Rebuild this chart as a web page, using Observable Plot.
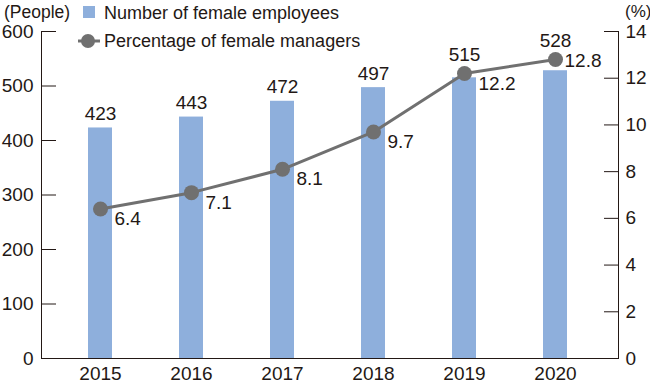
<!DOCTYPE html>
<html><head><meta charset="utf-8">
<script src="https://cdn.jsdelivr.net/npm/d3@7"></script>
<script src="https://cdn.jsdelivr.net/npm/@observablehq/plot@0.6"></script>
<style>
body{margin:0;background:#fff;}
#wrap{position:relative;width:650px;height:384px;font-family:"Liberation Sans",Arial,sans-serif;color:#231815;}
#wrap svg{display:block}
.lab{position:absolute;font-size:18px;line-height:18px;white-space:nowrap}
</style></head><body>
<div id="wrap"></div>
<script>
const years = ["2015","2016","2017","2018","2019","2020"];
const employees = [423, 443, 472, 497, 515, 528];
const managerPct = [6.4, 7.1, 8.1, 9.7, 12.2, 12.8];
const leftTicks = [0, 100, 200, 300, 400, 500, 600];
const rightTicks = [0, 2, 4, 6, 8, 10, 12, 14];
const leftMax = 600, rightMax = 14;
const seriesNames = ["Number of female employees", "Percentage of female managers"];
const unitLeft = "(People)", unitRight = "(%)";

const k = leftMax / rightMax;
const data = years.map((y, i) => ({year: y, n: employees[i], pct: managerPct[i], pctL: managerPct[i] * k}));

const barColor = "#8EAFDC", lineColor = "#707070", ink = "#231815";
const font = "'Liberation Sans', Arial, sans-serif";

const chart = Plot.plot({
  width: 650, height: 384,
  marginTop: 31, marginBottom: 26, marginLeft: 41, marginRight: 32,
  style: {fontFamily: font, fontSize: "19px", color: ink, background: "transparent", overflow: "visible"},
  x: {type: "band", domain: years, paddingInner: 0.74, paddingOuter: 0.54, align: 0.478},
  y: {domain: [0, leftMax]},
  marks: [
    Plot.barY(data, {x: "year", y: "n", fill: barColor}),
    Plot.line(data, {x: "year", y: "pctL", stroke: lineColor, strokeWidth: 3}),
    Plot.dot(data, {x: "year", y: "pctL", r: 7.5, fill: lineColor}),
    Plot.text(data, {x: "year", y: d => Math.max(d.n, d.pctL + 8), text: d => String(d.n), dy: -14, lineAnchor: "middle", fill: ink}),
    Plot.text(data.slice(0, 5), {x: "year", y: "pctL", text: d => d.pct.toFixed(1), dx: 14, dy: 10, textAnchor: "start", lineAnchor: "middle", fill: ink}),
    Plot.text(data.slice(5), {x: "year", y: "pctL", text: d => d.pct.toFixed(1), dx: 9, dy: 1, textAnchor: "start", lineAnchor: "middle", fill: ink}),
    Plot.axisX({tickSize: 0, tickPadding: 8, label: null, fill: ink}),
    Plot.axisY(leftTicks, {anchor: "left", tickSize: -15, tickPadding: 23, label: null, stroke: ink, fill: ink}),
    Plot.axisY(rightTicks.map(t => t * k), {anchor: "right", tickSize: -15, tickPadding: 22, label: null, tickFormat: d => String(Math.round(d / k)), stroke: ink, fill: ink}),
    Plot.ruleY([0], {stroke: ink}),
    Plot.frame({anchor: "left", stroke: ink}),
    Plot.frame({anchor: "right", stroke: ink})
  ]
});
const wrap = document.getElementById("wrap");
wrap.appendChild(chart);

function addLab(text, left, top, extra) {
  const d = document.createElement("div");
  d.className = "lab";
  d.textContent = text;
  d.style.left = left + "px";
  d.style.top = top + "px";
  if (extra) Object.assign(d.style, extra);
  wrap.appendChild(d);
  return d;
}
addLab(unitLeft, 4, 4, {fontSize: "17.5px", lineHeight: "16px"});
addLab(unitRight, 625, 4, {fontSize: "17px", lineHeight: "16px"});
// legend
const sq = document.createElement("div");
Object.assign(sq.style, {position: "absolute", left: "83px", top: "6px", width: "12px", height: "12px", background: barColor});
wrap.appendChild(sq);
addLab(seriesNames[0], 104, 4);
const ns = "http://www.w3.org/2000/svg";
const lsvg = document.createElementNS(ns, "svg");
lsvg.setAttribute("width", "30"); lsvg.setAttribute("height", "20");
Object.assign(lsvg.style, {position: "absolute", left: "75px", top: "31px"});
lsvg.innerHTML = `<line x1="3" x2="25" y1="10" y2="10" stroke="${lineColor}" stroke-width="3"/><circle cx="13" cy="10" r="7" fill="${lineColor}"/>`;
wrap.appendChild(lsvg);
addLab(seriesNames[1], 104, 32);
</script>
</body></html>
